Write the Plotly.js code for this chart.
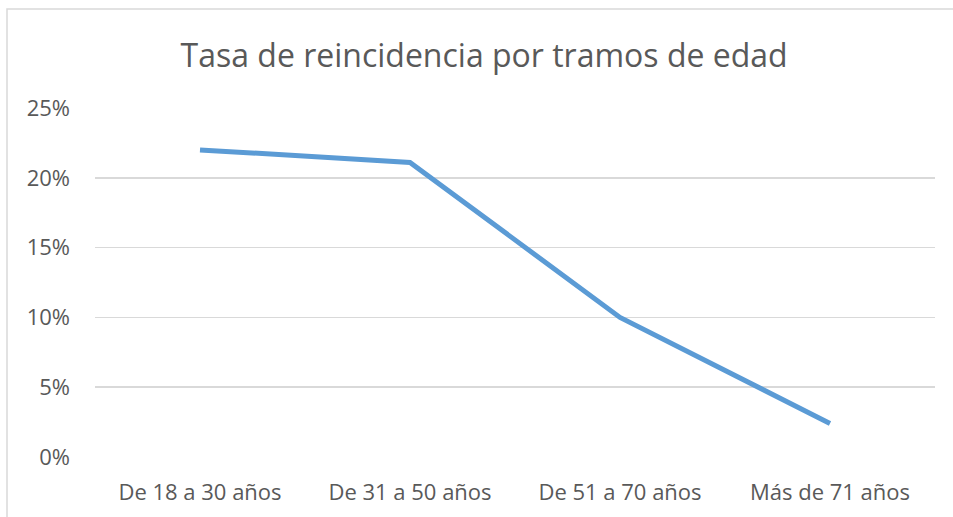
<!DOCTYPE html>
<html>
<head>
<meta charset="utf-8">
<script src="https://cdn.plot.ly/plotly-3.0.1.min.js"></script>
<style>
html,body{margin:0;padding:0;background:#fff;}
#chart{width:953px;height:517px;}
</style>
</head>
<body>
<div id="chart"></div>
<script>
const categories = ["De 18 a 30 años", "De 31 a 50 años", "De 51 a 70 años", "Más de 71 años"];
const rates = [22.0, 21.1, 10.0, 2.4];
const yTicks = [0, 5, 10, 15, 20, 25];
const titleText = "Tasa de reincidencia por tramos de edad";

const fontFam = "Open Sans, Liberation Sans, sans-serif";
const trace = {
  x: categories,
  y: rates,
  type: "scatter",
  mode: "lines",
  line: {color: "#5B9BD5", width: 5},
  hoverinfo: "skip"
};
const layout = {
  width: 953, height: 517,
  margin: {l: 95, r: 18, t: 108, b: 60},
  paper_bgcolor: "#fff", plot_bgcolor: "#fff",
  showlegend: false,
  title: {text: titleText, x: 0.508, xanchor: "center", y: 0.893, yanchor: "middle",
          font: {family: fontFam, size: 32, color: "#595959"}},
  xaxis: {type: "category", range: [-0.5, 3.5], showgrid: false, zeroline: false, showline: false,
          ticks: "", ticklabelstandoff: 20,
          tickfont: {family: fontFam, size: 22, color: "#595959"}},
  yaxis: {range: [0, 25], tickvals: yTicks, ticktext: yTicks.map(v => v + "%"),
          showgrid: true, gridcolor: "#d9d9d9", gridwidth: 1.5, zeroline: false, showline: false,
          ticks: "", ticklabelstandoff: 24,
          tickfont: {family: fontFam, size: 22, color: "#595959"}},
  shapes: [{type: "rect", xref: "paper", yref: "paper",
            x0: (7 - 95) / 840, x1: 1.2, y0: -0.3, y1: (457 - 9) / 349,
            line: {color: "#d9d9d9", width: 1.5}, fillcolor: "rgba(0,0,0,0)", layer: "below"}]
};
Plotly.newPlot("chart", [trace], layout, {staticPlot: true, displayModeBar: false});
</script>
</body>
</html>
